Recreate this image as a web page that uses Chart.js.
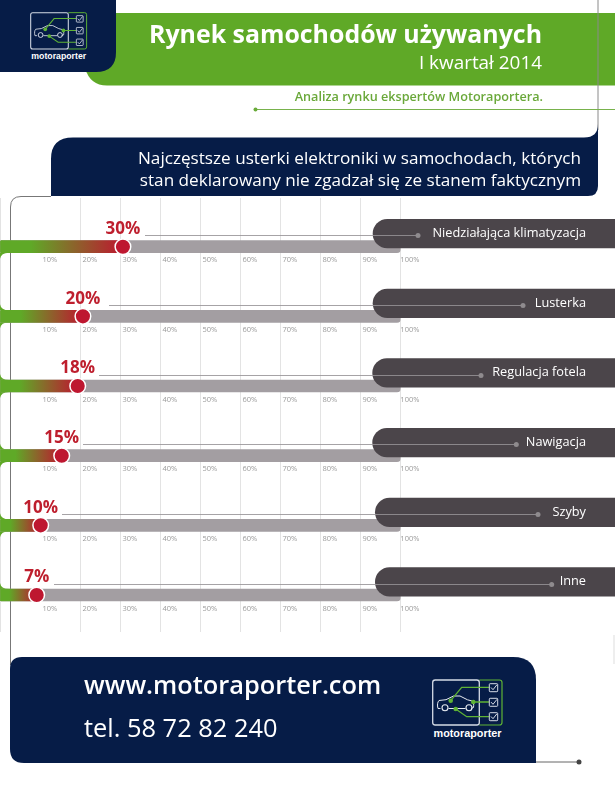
<!DOCTYPE html>
<html lang="pl">
<head>
<meta charset="utf-8">
<title>Rynek samochodów używanych</title>
<script src="https://cdn.jsdelivr.net/npm/chart.js@4"></script>
<style>
html,body{margin:0;padding:0;background:#fff;width:615px;height:800px;overflow:hidden}
#page{position:relative;width:615px;height:800px;font-family:"Open Sans",sans-serif}
#bg,#chart{position:absolute;left:0;top:0}
.t{position:absolute;white-space:nowrap;line-height:1}
</style>
</head>
<body>
<div id="page">
<svg id="bg" width="615" height="800" viewBox="0 0 615 800" xmlns="http://www.w3.org/2000/svg">
  <defs>
    <g id="logo">
      <path d="M479.3 680H499.5a2.5 2.5 0 0 1 2.5 2.5V722.5a2.5 2.5 0 0 1-2.5 2.5H479.3" fill="none" stroke="#5fb336" stroke-width="1.2"/>
      <rect x="432.7" y="680" width="46.6" height="45" rx="2.5" fill="none" stroke="#d5dbe6" stroke-width="1.3"/>
      <path d="M440.5 708.500H438c-1-3.500-.5-6.500 1-8l7-.8 7.500-3.700h6.500l7.500 3.800 5 1.300c1 1.500 1.500 3.500 1 6.400l-2.500 1M465.500 708.500H448.500" fill="none" stroke="#e6eaf0" stroke-width="1"/>
      <circle cx="445" cy="707.700" r="3" fill="none" stroke="#e6eaf0" stroke-width="1.100"/>
      <circle cx="469" cy="707.700" r="3" fill="none" stroke="#e6eaf0" stroke-width="1.100"/>
      <path d="M450.700 700.700 461.700 687.300H489M473.300 702H489M455.700 709 466.700 716.700H489" fill="none" stroke="#5fb336" stroke-width="1.300"/>
      <circle cx="450.700" cy="700.700" r="2.300" fill="#5fb336"/>
      <circle cx="473.300" cy="702" r="2.300" fill="#5fb336"/>
      <circle cx="455.700" cy="709" r="2.300" fill="#5fb336"/>
      <g fill="none" stroke="#d5dbe6" stroke-width="1">
        <rect x="489.300" y="683.700" width="8.400" height="8" rx=".8"/>
        <rect x="489.300" y="698.300" width="8.400" height="8" rx=".8"/>
        <rect x="489.300" y="712.700" width="8.400" height="8" rx=".8"/>
        <path d="M491 687.500l2 2.200 4-5M491 702.100l2 2.200 4-5M491 716.500l2 2.200 4-5"/>
      </g>
      <text x="467.500" y="737.200" text-anchor="middle" textLength="68" lengthAdjust="spacingAndGlyphs" font-family="Liberation Sans" font-weight="700" font-size="11.500" fill="#fff">motoraporter</text>
    </g>
  </defs>
  <path d="M85 13H615V85.500H107Q90 85.500 85 68Z" fill="#5fa927"/>
  <path d="M0 0H116V52Q116 72 96 72H0Z" fill="#061c47"/>
  <use href="#logo" transform="translate(-318.500 -536.100) scale(.807)"/>
  <path d="M598 0V130" stroke="#8a8a8a" stroke-width="1" fill="none"/>
  <path d="M255 109.500H615" stroke="#78b24c" stroke-width="1" fill="none"/>
  <circle cx="255.500" cy="109.500" r="2" fill="#6aab3a"/>
  <path d="M73 137.500H584Q598 137.500 598 124V186Q598 196 588 196H51V159Q51 137.500 73 137.500Z" fill="#061c47"/>
  <path d="M51 196.500H21Q10.500 196.500 10.500 207V665" stroke="#777" stroke-width="1" fill="none"/>
  <path d="M22 657H513Q536 657 536 680V763H24Q10 763 10 749V669Q10 657 22 657Z" fill="#061c47"/>
  <use href="#logo"/>
  <path d="M536 762H579" stroke="#666" stroke-width="1" fill="none"/>
  <circle cx="579" cy="762" r="2.500" fill="#444"/>
  <path d="M614 635V664" stroke="#ddd" stroke-width="1" fill="none"/>
</svg>
<canvas id="chart" width="615" height="800" style="width:615px;height:800px"></canvas>
<div class="t" style="right:73px;top:21px;font-size:24.9px;font-weight:700;color:#fff">Rynek samochodów używanych</div>
<div class="t" style="right:73px;top:53px;font-size:18.9px;color:#fff">I kwartał 2014</div>
<div class="t" style="right:72px;top:90px;font-size:12.65px;font-weight:600;color:#6aa83a">Analiza rynku ekspertów Motoraportera.</div>
<div class="t" style="right:34px;top:149px;font-size:17.15px;color:#fff">Najczęstsze usterki elektroniki w samochodach, których</div>
<div class="t" style="right:34px;top:171px;font-size:17.15px;color:#fff">stan deklarowany nie zgadzał się ze stanem faktycznym</div>
<div class="t" style="left:84px;top:672px;font-size:25.4px;font-weight:600;color:#fff">www.motoraporter.com</div>
<div class="t" style="left:84px;top:715px;font-size:25.4px;color:#fff">tel. 58 72 82 240</div>
</div>
<script>
const categories = ["Niedziałająca klimatyzacja","Lusterka","Regulacja fotela","Nawigacja","Szyby","Inne"];
const percentLabels = [30,20,18,15,10,7];
const markerPositions = [30.6,20.6,19.3,15.3,10.05,9.05];
const trackValues = [100,100,100,100,100,100];
const tickValues = [0,10,20,30,40,50,60,70,80,90,100];

const rowDecor = {
  pillLeft:[372.7,372.7,372.3,372.3,375,375],
  leaderStart:[145,109,99,83,62,54],
  leaderDot:[418,523,481,516.3,538,551.7]
};
const GREEN = "#5fa927", RED = "#be1730";
const rows = categories.map((_, i) => i);

const decorPlugin = {
  id: "decor",
  beforeDatasetsDraw(chart) {
    const c = chart.ctx, y = chart.scales.y;
    c.save();
    c.fillStyle = GREEN;
    rows.forEach(i => {
      const top = y.getPixelForValue(i) - 6, bot = top + 12;
      c.fillRect(0, top, 12, 12);
      if (i > 0) {
        c.beginPath(); c.moveTo(0, top - 6); c.quadraticCurveTo(1, top, 9, top); c.lineTo(0, top); c.closePath(); c.fill();
      }
      if (i < rows.length - 1) {
        c.beginPath(); c.moveTo(0, bot + 6); c.quadraticCurveTo(1, bot, 9, bot); c.lineTo(0, bot); c.closePath(); c.fill();
      }
    });
    c.restore();
  },
  afterDatasetsDraw(chart) {
    const c = chart.ctx, y = chart.scales.y, x = chart.scales.x;
    c.save();
    rows.forEach(i => {
      const cy = y.getPixelForValue(i);
      const top = cy - 27.7, h = 29.3, left = rowDecor.pillLeft[i];
      c.fillStyle = "#4b454a";
      c.beginPath();
      c.roundRect(left, top, 615 - left + 5, h, [14.6, 0, 0, 14.6]);
      c.fill();

      const ly = Math.round(cy - 11.5) + 0.5;
      c.strokeStyle = "rgba(150,147,150,0.85)";
      c.lineWidth = 1;
      c.beginPath(); c.moveTo(rowDecor.leaderStart[i], ly); c.lineTo(rowDecor.leaderDot[i], ly); c.stroke();
      c.fillStyle = "#8f8b8e";
      c.beginPath(); c.arc(rowDecor.leaderDot[i], ly, 2.5, 0, Math.PI * 2); c.fill();

      c.fillStyle = "#fff";
      c.font = '12.75px "Open Sans"';
      c.textAlign = "right";
      c.textBaseline = "middle";
      c.fillText(categories[i], 586, cy - 13.2);

      c.fillStyle = "#be1e2d";
      c.font = 'bold 17px "Open Sans"';
      c.textAlign = "center";
      c.fillText(percentLabels[i] + "%", x.getPixelForValue(markerPositions[i]), cy - 17.6);
    });
    c.restore();
  }
};

const xAxisBase = {
  type: "linear", min: 0, max: 100,
  afterBuildTicks(s) { s.ticks = tickValues.map(v => ({ value: v })); },
  afterFit(s) { s.paddingLeft = 0; s.paddingRight = 0; s.paddingTop = 0; s.paddingBottom = 0; },
  border: { display: false },
  ticks: {
    autoSkip: false, maxRotation: 0, minRotation: 0, padding: 9, labelOffset: 9.3,
    color: "#9b9b9b", font: { family: "Open Sans", size: 7.5 },
    callback: v => (v === 0 ? "" : v + "%")
  }
};
const scales = {
  y: {
    type: "linear", display: false, min: -0.699, max: 5.531, reverse: true, offset: false
  }
};
rows.forEach(i => {
  const id = i === 0 ? "x" : "x" + i;
  scales[id] = {
    ...xAxisBase,
    axis: "x",
    position: { y: i },
    grid: i === 0
      ? { drawTicks: false, tickLength: 0, lineWidth: 1,
          color: ctx => (ctx.tick && ctx.tick.value === 10 ? "rgba(0,0,0,0)" : "#e3e3e3") }
      : { display: false, drawTicks: false, tickLength: 0 }
  };
});

new Chart(document.getElementById("chart"), {
  type: "bar",
  plugins: [decorPlugin],
  data: {
    datasets: [
      {
        type: "scatter", label: "marker", order: 1,
        data: rows.map(i => ({ x: markerPositions[i], y: i })),
        pointRadius: 7.8, pointBorderWidth: 1.5,
        pointBackgroundColor: RED, pointBorderColor: "#fff", clip: false
      },
      {
        label: "wynik", order: 2,
        data: rows.map(i => ({ x: markerPositions[i], y: i })),
        barThickness: 12, grouped: false, borderWidth: 0,
        backgroundColor(ctx) {
          const ch = ctx.chart;
          if (!ch.chartArea || ctx.dataIndex === undefined) return GREEN;
          const end = ch.scales.x.getPixelForValue(markerPositions[ctx.dataIndex]);
          const g = ch.ctx.createLinearGradient(end * 0.25, 0, end, 0);
          g.addColorStop(0, GREEN);
          g.addColorStop(1, RED);
          return g;
        }
      },
      {
        label: "skala", order: 3,
        data: rows.map(i => ({ x: trackValues[i], y: i })),
        barThickness: 12, grouped: false, borderWidth: 0,
        backgroundColor: "#a39ea2",
        borderRadius: { topRight: 4, bottomRight: 4 }, borderSkipped: false
      }
    ]
  },
  options: {
    indexAxis: "y",
    responsive: false,
    animation: false,
    events: [],
    layout: { autoPadding: false, padding: { left: 0.5, right: 214.4, top: 198, bottom: 168 } },
    plugins: { legend: { display: false }, title: { display: false }, tooltip: { enabled: false } },
    scales
  }
});
</script>
</body>
</html>
